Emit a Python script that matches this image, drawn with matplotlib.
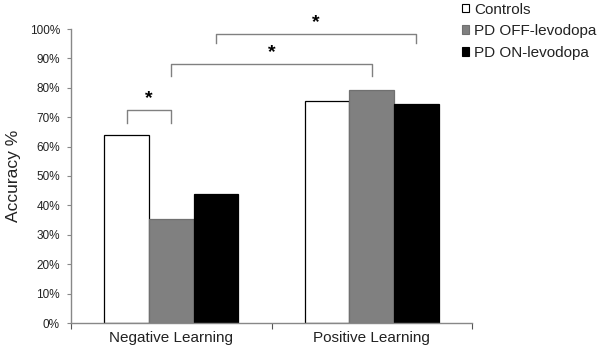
import matplotlib
matplotlib.use("Agg")
import matplotlib.pyplot as plt
import numpy as np
from matplotlib.patches import Patch

plt.rcParams['font.family'] = ['Liberation Sans', 'DejaVu Sans']

categories = ["Negative Learning", "Positive Learning"]
series = ["Controls", "PD OFF-levodopa", "PD ON-levodopa"]
controls = [63.8, 75.6]
pd_off = [35.5, 79.4]
pd_on = [43.9, 74.5]
yticks = [0, 10, 20, 30, 40, 50, 60, 70, 80, 90, 100]
ytick_labels = [f"{t}%" for t in yticks]

# significance brackets: (group_a, series_a, group_b, series_b, leg_bottom, top)
brackets = [
    (0, 0, 0, 1, 68.0, 72.3),
    (0, 1, 1, 1, 84.0, 88.0),
    (0, 2, 1, 2, 95.3, 98.4),
]

fig = plt.figure(figsize=(6.0, 3.52), dpi=100)
ax = fig.add_axes([71/600, (352-323)/352, (472-71)/600, (323-29)/352])

x = np.arange(len(categories))
w = 0.222
offsets = [-w, 0, w]
face = ["white", "#808080", "black"]
edge = ["black", "#707070", "black"]
data = [controls, pd_off, pd_on]
for i, (vals, fc, ec, lab) in enumerate(zip(data, face, edge, series)):
    ax.bar(x + offsets[i], vals, width=w, color=fc, edgecolor=ec, linewidth=0.9, label=lab, zorder=2)

ax.set_xlim(-0.5, 1.5)
ax.set_ylim(0, 100)
ax.set_yticks(yticks)
ax.set_yticklabels(ytick_labels, fontsize=8.5, color='#222222')
ax.set_xticks([-0.5, 0.5, 1.5])
ax.set_xticklabels([])
ax.set_xticks(x, minor=True)
ax.set_xticklabels(categories, minor=True, fontsize=11, color='#222222')
ax.tick_params(axis='x', which='minor', length=0, pad=6)
ax.tick_params(axis='x', which='major', length=4, color='#555555', direction='out')
ax.tick_params(axis='y', length=3, color='#888888', pad=5)
for s in ['top', 'right']:
    ax.spines[s].set_visible(False)
for s in ['left', 'bottom']:
    ax.spines[s].set_color('#888888')
    ax.spines[s].set_linewidth(1)
ax.set_ylabel("Accuracy %", fontsize=12.5, labelpad=6, color='#222222')

for (ga, sa, gb, sb, lo, hi) in brackets:
    xa = x[ga] + offsets[sa]
    xb = x[gb] + offsets[sb]
    ax.plot([xa, xa, xb, xb], [lo, hi, hi, lo], color='#808080', lw=1, clip_on=False, zorder=3)
    ax.text((xa + xb) / 2, hi + 1.0, "*", ha='center', va='bottom', fontsize=14,
            fontweight='bold', clip_on=False)

handles = [Patch(facecolor=fc, edgecolor=ec, linewidth=0.8) for fc, ec in zip(face, edge)]
fig.legend(handles, series, loc='upper left', bbox_to_anchor=(460/600, 1 - 1/352),
           frameon=False, fontsize=11, handlelength=0.5, handleheight=0.5,
           handletextpad=0.3, labelspacing=0.5, borderpad=0.1, borderaxespad=0,
           labelcolor='#222222')

fig.savefig("out.png", dpi=100)
